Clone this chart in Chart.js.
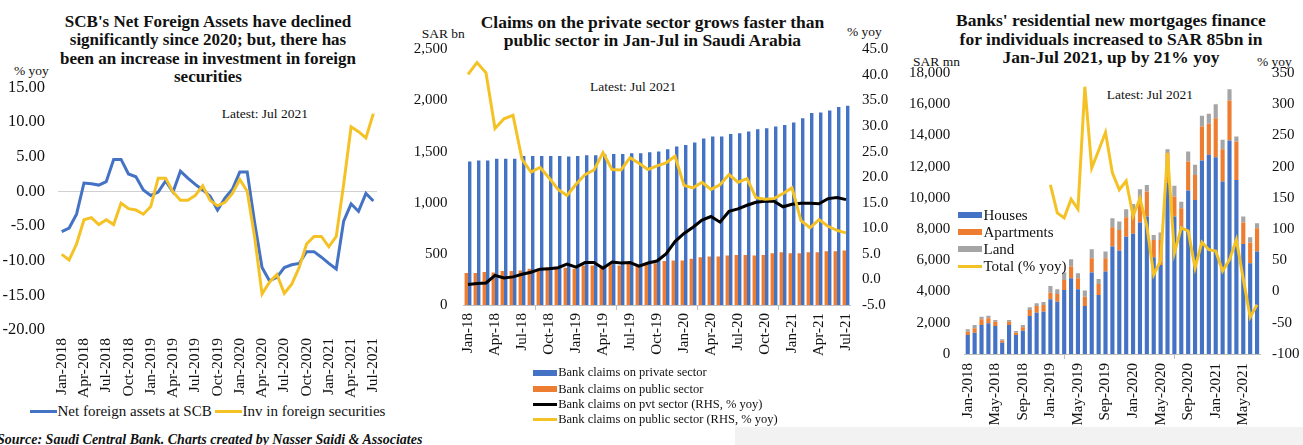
<!DOCTYPE html>
<html>
<head>
<meta charset="utf-8">
<script src="https://cdn.jsdelivr.net/npm/chart.js@4.4.1/dist/chart.umd.min.js"></script>
<style>
  html, body { margin: 0; padding: 0; background: #fff; }
  body {
    width: 1303px; height: 445px; position: relative; overflow: hidden;
    font-family: "Liberation Serif", "Times New Roman", serif; color: #111;
  }
  .title { position: absolute; font-weight: bold; font-size: 17.5px; line-height: 18.5px; text-align: center; white-space: nowrap; }
  .note { position: absolute; font-size: 13.5px; line-height: 16px; white-space: nowrap; }
  canvas { position: absolute; }
  .lg { position: absolute; display: flex; align-items: center; white-space: nowrap; height: 16px; }
  .sw { display: inline-block; flex: none; }
  .band { position: absolute; left: 735px; top: 427px; right: 0; bottom: 0; background: #f2f2f2; }
  .source { position: absolute; left: -3px; top: 432px; font-size: 14px; line-height: 15px; font-weight: bold; font-style: italic; white-space: nowrap; }
</style>
</head>
<body>
<div class="band"></div>

<!-- Panel 1 text -->
<div class="title" style="left:8px;top:12.75px;width:400px;font-size:17px;">SCB's Net Foreign Assets have declined<br>significantly since 2020; but, there has<br>been an increase in investment in foreign<br>securities</div>
<div class="note" style="left:14px;top:62.5px;">% yoy</div>
<div class="note" style="left:221.7px;top:106px;">Latest: Jul 2021</div>

<!-- Panel 2 text -->
<div class="title" style="left:452.5px;top:13px;width:400px;line-height:18px;">Claims on the private sector grows faster than<br>public sector in Jan-Jul in Saudi Arabia</div>
<div class="note" style="left:421.7px;top:26px;">SAR bn</div>
<div class="note" style="left:847px;top:24px;">% yoy</div>
<div class="note" style="left:590px;top:78.7px;">Latest: Jul 2021</div>

<!-- Panel 3 text -->
<div class="title" style="left:911px;top:11px;width:400px;">Banks' residential new mortgages finance<br>for individuals increased to SAR 85bn in<br>Jan-Jul 2021, up by 21% yoy</div>
<div class="note" style="left:913px;top:54px;">SAR mn</div>
<div class="note" style="left:1257px;top:54px;">% yoy</div>
<div class="note" style="left:1106.7px;top:87px;">Latest: Jul 2021</div>

<canvas id="c1" width="400" height="400" style="left:0;top:0;"></canvas>
<canvas id="c2" width="495" height="400" style="left:400px;top:0;"></canvas>
<canvas id="c3" width="413" height="430" style="left:890px;top:0;"></canvas>

<div id="lg1"></div>
<div id="lg2"></div>
<div id="lg3"></div>

<div class="source">Source: Saudi Central Bank. Charts created by Nasser Saidi &amp; Associates</div>

<script>
// ---- Categories ----
const MONTHS_LONG = [
  'Jan-2018','Feb-2018','Mar-2018','Apr-2018','May-2018','Jun-2018','Jul-2018','Aug-2018','Sep-2018','Oct-2018','Nov-2018','Dec-2018',
  'Jan-2019','Feb-2019','Mar-2019','Apr-2019','May-2019','Jun-2019','Jul-2019','Aug-2019','Sep-2019','Oct-2019','Nov-2019','Dec-2019',
  'Jan-2020','Feb-2020','Mar-2020','Apr-2020','May-2020','Jun-2020','Jul-2020','Aug-2020','Sep-2020','Oct-2020','Nov-2020','Dec-2020',
  'Jan-2021','Feb-2021','Mar-2021','Apr-2021','May-2021','Jun-2021','Jul-2021'
];
const MONTHS_SHORT = [
  'Jan-18','Feb-18','Mar-18','Apr-18','May-18','Jun-18','Jul-18','Aug-18','Sep-18','Oct-18','Nov-18','Dec-18',
  'Jan-19','Feb-19','Mar-19','Apr-19','May-19','Jun-19','Jul-19','Aug-19','Sep-19','Oct-19','Nov-19','Dec-19',
  'Jan-20','Feb-20','Mar-20','Apr-20','May-20','Jun-20','Jul-20','Aug-20','Sep-20','Oct-20','Nov-20','Dec-20',
  'Jan-21','Feb-21','Mar-21','Apr-21','May-21','Jun-21','Jul-21'
];

// ---- Panel 1: SCB foreign assets, % yoy ----
const NFA_SCB = [
  -5.8, -5.3, -3.3, 1.2, 1.1, 0.9, 1.4, 4.6, 4.6, 2.5, 2.1, 0.2,
  -0.6, -0.1, 1.5, -0.1, 2.9, 1.9, 1.0, 0.2, -0.7, -2.7, -1.0, 0.3,
  2.8, 2.8, -4.5, -11.0, -12.9, -12.4, -11.0, -10.6, -10.4, -8.7, -8.7, -9.5,
  -10.4, -11.2, -4.3, -1.8, -2.9, -0.3, -1.4
];
const INV_FOREIGN_SEC = [
  -9.1, -9.9, -7.6, -4.1, -3.8, -4.8, -4.1, -4.8, -1.7, -2.5, -2.7, -3.3,
  -2.2, 1.9, 1.9, -0.1, -1.3, -1.3, -0.6, 0.8, -1.3, -2.1, -1.6, -0.3,
  1.7, 0.0, -6.6, -14.8, -13.1, -12.0, -14.7, -13.4, -11.0, -7.6, -6.5, -6.5,
  -8.0, -6.5, 1.0, 9.3, 8.6, 7.7, 11.2
];
const P1_Y_TICKS = { min: -20, max: 15, step: 5 };

// ---- Panel 2: bank claims ----
const CLAIMS_PRIVATE = [
  1402, 1412, 1412, 1431, 1431, 1431, 1458, 1458, 1458, 1458, 1458, 1451,
  1458, 1464, 1464, 1474, 1477, 1477, 1484, 1484, 1493, 1500, 1523, 1549,
  1565, 1588, 1627, 1647, 1647, 1673, 1680, 1696, 1719, 1729, 1745, 1761,
  1784, 1827, 1876, 1882, 1902, 1935, 1948
];
const CLAIMS_PUBLIC = [
  313, 313, 322, 318, 332, 332, 338, 355, 355, 371, 371, 364,
  355, 387, 387, 387, 403, 387, 403, 387, 403, 409, 429, 435,
  435, 451, 467, 474, 474, 483, 490, 490, 483, 490, 506, 516,
  506, 506, 516, 516, 525, 525, 532
];
const CLAIMS_PRIVATE_YOY = [
  -1.0, -0.8, -0.7, 0.8, 0.3, 0.5, 1.0, 1.4, 2.0, 2.1, 2.3, 3.0,
  2.4, 3.3, 3.3, 2.2, 3.4, 3.2, 3.3, 2.6, 3.2, 3.6, 5.0, 7.4,
  9.0, 10.2, 11.6, 12.3, 11.2, 13.3, 13.8, 14.5, 15.1, 15.3, 15.3, 14.2,
  14.7, 14.9, 14.9, 14.8, 15.8, 16.0, 15.6
];
const CLAIMS_PUBLIC_YOY = [
  40.1, 42.4, 40.4, 29.5, 31.4, 32.1, 23.5, 21.0, 21.9, 19.9, 17.6, 16.4,
  18.6, 20.5, 21.4, 24.8, 21.5, 21.4, 23.8, 22.7, 21.5, 22.2, 22.8, 24.1,
  18.4, 17.9, 19.0, 17.6, 18.5, 20.5, 19.0, 19.7, 16.0, 15.7, 15.8, 16.8,
  17.9, 11.5, 10.1, 11.7, 10.4, 9.6, 9.1
];
const P2_LEFT_TICKS = { min: 0, max: 2500, step: 500 };
const P2_RIGHT_TICKS = { min: -5, max: 45, step: 5 };

// ---- Panel 3: new residential mortgages, SAR mn ----
const MORTGAGE_HOUSES = [
  1218, 1365, 1859, 1966, 1795, 726, 1859, 1218, 1495, 2436, 2650, 2714,
  3504, 3354, 4102, 4850, 4146, 3077, 5213, 3782, 5277, 6880, 6624, 7518,
  7700, 8418, 8803, 6200, 5700, 10980, 8800, 8160, 10470, 9871, 12390, 12756,
  12610, 11044, 13673, 11153, 7051, 5813, 6559
];
const MORTGAGE_APARTMENTS = [
  212, 282, 365, 322, 278, 129, 214, 147, 214, 384, 427, 427,
  427, 492, 641, 748, 704, 598, 919, 705, 855, 1240, 1327, 1243,
  1530, 1300, 1600, 1100, 1600, 1885, 1284, 1180, 1860, 1603, 2180, 1987,
  2497, 2077, 2564, 2456, 1367, 1324, 1496
];
const MORTGAGE_LAND = [
  153, 212, 169, 169, 107, 85, 107, 109, 150, 171, 171, 192,
  428, 300, 470, 470, 321, 385, 577, 320, 427, 577, 532, 514,
  385, 840, 430, 330, 480, 257, 686, 420, 640, 641, 686, 641,
  899, 596, 730, 322, 385, 343, 321
];
const MORTGAGE_TOTAL_YOY = [
  null, null, null, null, null, null, null, null, null, null, null, null,
  171, 126, 118, 148, 132, 328, 198, 226, 255, 190, 163, 177,
  121, 149, 105, 27, 49, 222, 62, 102, 97, 38, 79, 67,
  65, 33, 51, 83, 20, -41, -21
];
const P3_LEFT_TICKS = { min: 0, max: 18000, step: 2000 };
const P3_RIGHT_TICKS = { min: -100, max: 350, step: 50 };

// ---- Styling ----
const BLUE = '#4472C4';
const ORANGE = '#ED7D31';
const GREY = '#A5A5A5';
const GOLD = '#F5C226';
const BLACK = '#000000';
const AXIS_GREY = '#BFBFBF';
const TEXT = '#111111';
const FONT = '"Liberation Serif", "Times New Roman", serif';
const tickFont = { family: FONT, size: 15 };

Chart.defaults.font.family = FONT;
Chart.defaults.color = TEXT;

const noLegend = { legend: { display: false }, tooltip: { enabled: false } };
const fixedWidth = w => s => { s.width = w; };
const fixedHeight = h => s => { s.height = h; };
const everyNth = (labels, n) => function (v, i) { return i % n === 0 ? labels[i] : null; };
const fmtComma = v => Number(v).toLocaleString('en-US');

function lineSet(label, data, color, axis, order) {
  return {
    type: 'line', label, data, yAxisID: axis, order,
    borderColor: color, backgroundColor: color, borderWidth: 3,
    pointRadius: 0, tension: 0, fill: false, spanGaps: false
  };
}

// ---- Panel 1 ----
new Chart(document.getElementById('c1'), {
  type: 'line',
  data: {
    labels: MONTHS_LONG,
    datasets: [
      lineSet('Net foreign assets at SCB', NFA_SCB, BLUE, 'y', 1),
      lineSet('Inv in foreign securities', INV_FOREIGN_SEC, GOLD, 'y', 0)
    ]
  },
  options: {
    responsive: false, animation: false,
    layout: { padding: { top: 87.3, right: 5, bottom: 0, left: 0 } },
    plugins: noLegend,
    scales: {
      x: {
        type: 'category', offset: true,
        grid: { display: false, drawTicks: false },
        border: { display: false },
        ticks: { autoSkip: false, minRotation: 90, maxRotation: 90, padding: 8, font: { family: FONT, size: 15.5 }, color: TEXT,
                 callback: everyNth(MONTHS_LONG, 3) },
        afterFit: fixedHeight(70)
      },
      y: {
        min: P1_Y_TICKS.min, max: P1_Y_TICKS.max,
        ticks: { stepSize: P1_Y_TICKS.step, padding: 13, font: { family: FONT, size: 16.5 }, color: TEXT, callback: v => Number(v).toFixed(2) },
        grid: { drawTicks: false, lineWidth: 1, color: c => (c.tick && c.tick.value === 0) ? '#D0D0D0' : 'rgba(0,0,0,0)' },
        border: { display: false },
        afterFit: fixedWidth(58)
      }
    }
  }
});

// ---- Panel 2 ----
new Chart(document.getElementById('c2'), {
  type: 'bar',
  data: {
    labels: MONTHS_SHORT,
    datasets: [
      { type: 'bar', label: 'Bank claims on private sector', data: CLAIMS_PRIVATE, backgroundColor: BLUE,
        yAxisID: 'y', order: 3, categoryPercentage: 0.76, barPercentage: 1.0 },
      { type: 'bar', label: 'Bank claims on public sector', data: CLAIMS_PUBLIC, backgroundColor: ORANGE,
        yAxisID: 'y', order: 2, categoryPercentage: 0.76, barPercentage: 1.0 },
      lineSet('Bank claims on pvt sector (RHS, % yoy)', CLAIMS_PRIVATE_YOY, BLACK, 'y1', 1),
      lineSet('Bank claims on public sector (RHS, % yoy)', CLAIMS_PUBLIC_YOY, GOLD, 'y1', 0)
    ]
  },
  options: {
    responsive: false, animation: false,
    layout: { padding: { top: 49.3, right: 0, bottom: 0, left: 0 } },
    plugins: noLegend,
    scales: {
      x: {
        offset: true,
        grid: { display: true, drawOnChartArea: false, drawTicks: true, tickLength: 5, offset: true,
                color: c => (c.index % 3 === 0) ? AXIS_GREY : 'rgba(0,0,0,0)' },
        border: { display: true, color: AXIS_GREY },
        ticks: { autoSkip: false, minRotation: 90, maxRotation: 90, padding: 3, font: tickFont, color: TEXT,
                 callback: everyNth(MONTHS_SHORT, 3) },
        afterFit: fixedHeight(95)
      },
      y: {
        position: 'left', min: P2_LEFT_TICKS.min, max: P2_LEFT_TICKS.max,
        ticks: { stepSize: P2_LEFT_TICKS.step, padding: 16, font: tickFont, color: TEXT, callback: fmtComma },
        grid: { display: false, drawTicks: false },
        border: { display: false },
        afterFit: fixedWidth(63.5)
      },
      y1: {
        position: 'right', min: P2_RIGHT_TICKS.min, max: P2_RIGHT_TICKS.max,
        ticks: { stepSize: P2_RIGHT_TICKS.step, padding: 11.5, font: tickFont, color: TEXT, callback: v => Number(v).toFixed(1) },
        grid: { display: false, drawTicks: false },
        border: { display: false },
        afterFit: fixedWidth(44.5)
      }
    }
  }
});

// ---- Panel 3 ----
new Chart(document.getElementById('c3'), {
  type: 'bar',
  data: {
    labels: MONTHS_LONG,
    datasets: [
      { type: 'bar', label: 'Houses', data: MORTGAGE_HOUSES, backgroundColor: BLUE, yAxisID: 'y', stack: 'm', order: 1,
        categoryPercentage: 1.0, barPercentage: 0.6 },
      { type: 'bar', label: 'Apartments', data: MORTGAGE_APARTMENTS, backgroundColor: ORANGE, yAxisID: 'y', stack: 'm', order: 1,
        categoryPercentage: 1.0, barPercentage: 0.6 },
      { type: 'bar', label: 'Land', data: MORTGAGE_LAND, backgroundColor: GREY, yAxisID: 'y', stack: 'm', order: 1,
        categoryPercentage: 1.0, barPercentage: 0.6 },
      lineSet('Total (% yoy)', MORTGAGE_TOTAL_YOY, GOLD, 'y1', 0)
    ]
  },
  options: {
    responsive: false, animation: false,
    layout: { padding: { top: 73, right: 0, bottom: 0, left: 0 } },
    plugins: noLegend,
    scales: {
      x: {
        stacked: true, offset: true,
        grid: { display: true, drawOnChartArea: false, drawTicks: true, tickLength: 5, offset: true,
                color: c => (c.index % 4 === 0) ? AXIS_GREY : 'rgba(0,0,0,0)' },
        border: { display: true, color: AXIS_GREY },
        ticks: { autoSkip: false, minRotation: 90, maxRotation: 90, padding: 4, font: tickFont, color: TEXT,
                 callback: everyNth(MONTHS_LONG, 4) },
        afterFit: fixedHeight(76)
      },
      y: {
        stacked: true, position: 'left', min: P3_LEFT_TICKS.min, max: P3_LEFT_TICKS.max,
        ticks: { stepSize: P3_LEFT_TICKS.step, padding: 14, font: tickFont, color: TEXT, callback: fmtComma },
        grid: { display: false, drawTicks: false },
        border: { display: false },
        afterFit: fixedWidth(74.3)
      },
      y1: {
        stacked: false, position: 'right', min: P3_RIGHT_TICKS.min, max: P3_RIGHT_TICKS.max,
        ticks: { stepSize: P3_RIGHT_TICKS.step, padding: 11.5, font: tickFont, color: TEXT },
        grid: { display: false, drawTicks: false },
        border: { display: false },
        afterFit: fixedWidth(42.5)
      }
    }
  }
});

// ---- Legends ----
function legendItem(parent, x, yMid, color, swW, swH, text, size, gap) {
  const el = document.createElement('div');
  el.className = 'lg';
  el.style.left = x + 'px';
  el.style.top = (yMid - 8) + 'px';
  el.style.fontSize = size + 'px';
  const sw = document.createElement('span');
  sw.className = 'sw';
  sw.style.width = swW + 'px';
  sw.style.height = swH + 'px';
  sw.style.background = color;
  sw.style.marginRight = gap + 'px';
  el.appendChild(sw);
  el.appendChild(document.createTextNode(text));
  parent.appendChild(el);
}
const lg1 = document.getElementById('lg1');
legendItem(lg1, 30, 411, BLUE, 27, 3, 'Net foreign assets at SCB', 15, 0.5);
legendItem(lg1, 215, 411, GOLD, 27, 3, 'Inv in foreign securities', 15, 0.5);

const lg2 = document.getElementById('lg2');
legendItem(lg2, 532.7, 372.5, BLUE, 24, 6, 'Bank claims on private sector', 12.5, 1.5);
legendItem(lg2, 532.7, 389, ORANGE, 24, 6, 'Bank claims on public sector', 12.5, 1.5);
legendItem(lg2, 532.7, 404, BLACK, 24, 3, 'Bank claims on pvt sector (RHS, % yoy)', 12.5, 1.5);
legendItem(lg2, 532.7, 419.5, GOLD, 24, 3, 'Bank claims on public sector (RHS, % yoy)', 12.5, 1.5);

const lg3 = document.getElementById('lg3');
legendItem(lg3, 958, 215, BLUE, 24, 6, 'Houses', 15, 1.5);
legendItem(lg3, 958, 232, ORANGE, 24, 6, 'Apartments', 15, 1.5);
legendItem(lg3, 958, 249, GREY, 24, 6, 'Land', 15, 1.5);
legendItem(lg3, 958, 266, GOLD, 24, 3, 'Total (% yoy)', 15, 1.5);
</script>
</body>
</html>
